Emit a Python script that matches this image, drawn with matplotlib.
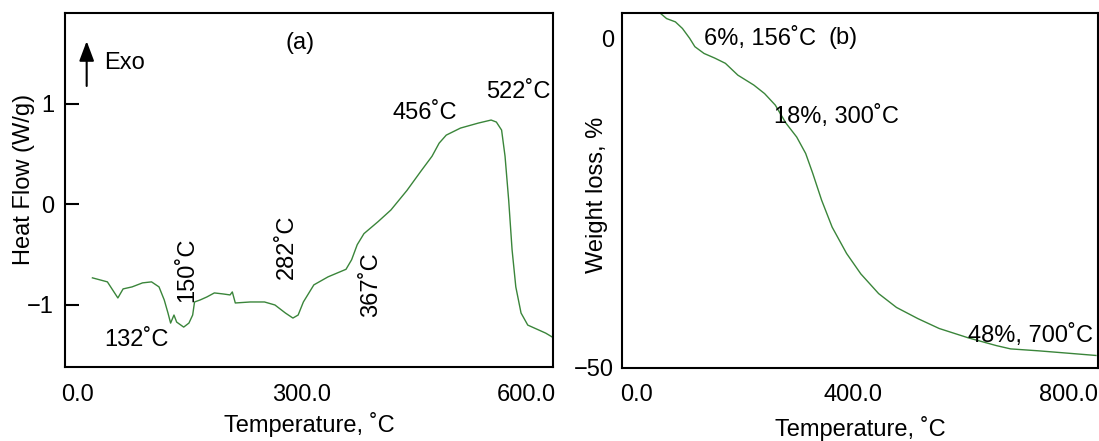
import matplotlib
matplotlib.use("Agg")
import matplotlib.pyplot as plt

plt.rcParams["font.family"] = ["Liberation Sans", "DejaVu Sans"]
plt.rcParams["axes.unicode_minus"] = True

# (a) DSC curve
dsc_temp = [20, 40, 54, 61, 73, 87, 99, 109, 116, 121, 124.5, 129, 132.6, 142,
            149, 154, 156.5, 164, 173, 183, 194.5, 204, 207, 211, 231, 250, 264,
            278, 288, 295, 302, 316, 335, 359, 366.5, 374, 383, 402, 419, 440.5,
            459, 474, 483.5, 493, 512, 536, 553, 560, 567, 571.6, 576.5, 581,
            586, 593, 602, 617, 626, 635]
dsc_flow = [-0.73, -0.77, -0.93, -0.84, -0.82, -0.78, -0.77, -0.82, -0.95, -1.08,
            -1.18, -1.10, -1.17, -1.22, -1.18, -1.10, -0.97, -0.95, -0.92, -0.88,
            -0.89, -0.90, -0.87, -0.98, -0.97, -0.97, -1.00, -1.08, -1.13, -1.10,
            -0.97, -0.80, -0.72, -0.645, -0.55, -0.40, -0.29, -0.17, -0.055, 0.14,
            0.33, 0.48, 0.61, 0.69, 0.76, 0.81, 0.84, 0.82, 0.74, 0.48, 0.04,
            -0.45, -0.82, -1.08, -1.20, -1.25, -1.28, -1.32]

# (b) TGA curve
tga_temp = [45.7, 55.7, 72, 85, 98.4, 108, 125, 144.7, 164.5, 187.6, 217, 237,
            256.8, 276.6, 296.4, 313, 326, 342.5, 362, 388.7, 415, 448, 481,
            520.6, 560, 613, 665.7, 692, 744.7, 797.6, 850]
tga_loss = [3.7, 3.0, 2.5, 1.5, 0.0, -1.27, -2.3, -3.0, -3.8, -5.6, -7.1, -8.4,
            -10.15, -12.9, -15.0, -17.5, -20.5, -24.6, -28.7, -32.7, -35.8, -38.8,
            -40.9, -42.6, -44.1, -45.5, -46.7, -47.2, -47.5, -47.85, -48.2]

dsc_labels = ["0.0", "300.0", "600.0"]
dsc_xticks = [0, 300, 600]
tga_labels = ["0.0", "400.0", "800.0"]
tga_xticks = [0, 400, 800]

line_color = "#3a853a"
fs = 17

fig = plt.figure(figsize=(10.99, 4.41), dpi=100)
ax1 = fig.add_axes([0.0594, 0.1671, 0.4435, 0.8023])
ax2 = fig.add_axes([0.5662, 0.1662, 0.4326, 0.8036])

for ax in (ax1, ax2):
    for sp in ax.spines.values():
        sp.set_linewidth(1.5)
    ax.tick_params(labelsize=fs, pad=12)

# ---- panel (a)
ax1.plot(dsc_temp, dsc_flow, color=line_color, lw=1.0)
ax1.set_xlim(-16.3, 635.3)
ax1.set_ylim(-1.62, 1.90)
ax1.set_xticks(dsc_xticks)
ax1.set_xticklabels(dsc_labels)
ax1.set_xticks([300], minor=True)
ax1.tick_params(axis="x", which="major", length=0)
ax1.tick_params(axis="x", which="minor", direction="in", length=15, width=1.5)
ax1.set_yticks([-1, 0, 1])
ax1.tick_params(axis="y", direction="in", length=10, width=1.5, pad=8)
ax1.set_xlabel("Temperature, ˚C", fontsize=fs)
ax1.xaxis.set_label_coords(0.5, -0.125)
ax1.set_ylabel("Heat Flow (W/g)", fontsize=fs)
ax1.yaxis.set_label_coords(-0.062, 0.532)

ax1.text(297.5, 1.604, "(a)", fontsize=fs, ha="center", va="center")
ax1.text(63.5, 1.408, "Exo", fontsize=fs, ha="center", va="center")
ax1.annotate("", xy=(12.3, 1.625), xytext=(12.3, 1.179),
             arrowprops=dict(arrowstyle="-|>,head_width=0.3,head_length=0.8",
                             mutation_scale=15, shrinkA=0, shrinkB=0,
                             color="black", lw=1.5))
ax1.text(589, 1.122, "522˚C", fontsize=fs, ha="center", va="center")
ax1.text(464.6, 0.910, "456˚C", fontsize=fs, ha="center", va="center")
ax1.text(79, -1.348, "132˚C", fontsize=fs, ha="center", va="center")
ax1.text(146.4, -0.652, "150˚C", fontsize=fs, ha="center", va="center", rotation=90)
ax1.text(279.7, -0.418, "282˚C", fontsize=fs, ha="center", va="center", rotation=90)
ax1.text(392.4, -0.80, "367˚C", fontsize=fs, ha="center", va="center", rotation=90)

# ---- panel (b)
ax2.plot(tga_temp, tga_loss, color=line_color, lw=1.0)
ax2.set_xlim(-26.3, 853.2)
ax2.set_ylim(-50.06, 3.8)
ax2.set_xticks(tga_xticks)
ax2.set_xticklabels(tga_labels)
ax2.set_xticks([400], minor=True)
ax2.tick_params(axis="x", which="major", length=0)
ax2.tick_params(axis="x", which="minor", direction="in", length=15, width=1.5)
ax2.set_yticks([-50, 0])
ax2.tick_params(axis="y", length=0, pad=6)
ax2.set_xlabel("Temperature, ˚C", fontsize=fs)
ax2.xaxis.set_label_coords(0.5, -0.137)
ax2.set_ylabel("Weight loss, %", fontsize=fs)
ax2.yaxis.set_label_coords(-0.029, 0.489)

ax2.text(228, 0.0, "6%, 156˚C", fontsize=fs, ha="center", va="center")
ax2.text(382, 0.0, "(b)", fontsize=fs, ha="center", va="center")
ax2.text(369, -11.93, "18%, 300˚C", fontsize=fs, ha="center", va="center")
ax2.text(728, -45.16, "48%, 700˚C", fontsize=fs, ha="center", va="center")

fig.savefig("out.png", dpi=100)
